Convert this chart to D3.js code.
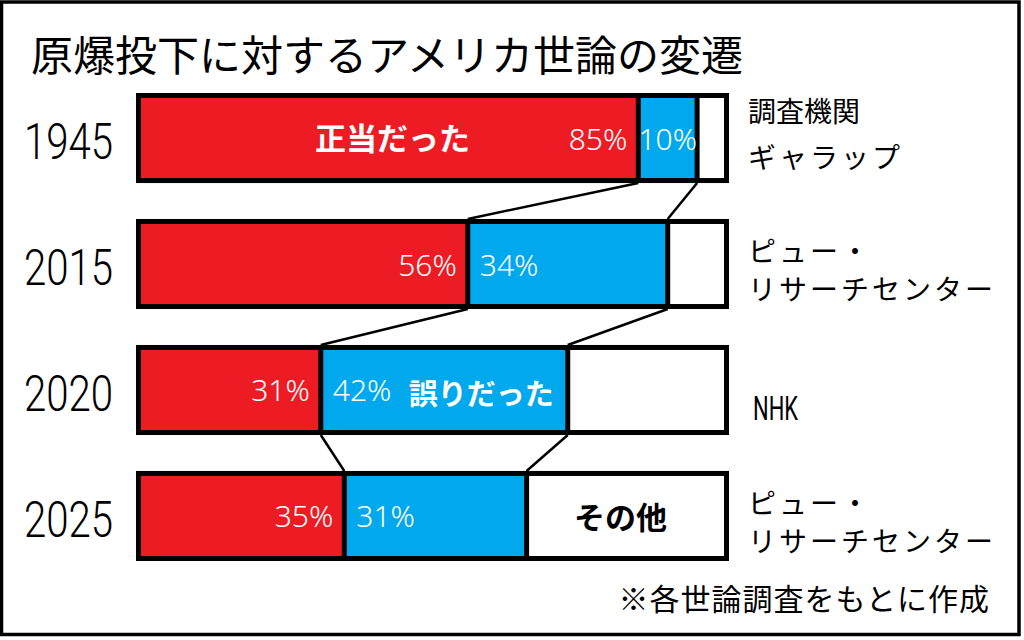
<!DOCTYPE html>
<meta charset="utf-8">
<style>
body { margin: 0; background: #fff; }
svg { display: block; }
.jp { font-family: "Noto Sans CJK JP", "Noto Sans", sans-serif; }
.num { font-family: "Noto Sans", "Open Sans", sans-serif; font-weight: 300; }
.narrow { font-family: Roboto, "Liberation Sans", sans-serif; font-weight: 400; }
.year { font-weight: 300; }
</style>
<svg width="1024" height="640"></svg>
<script src="https://d3js.org/d3.v7.min.js"></script>
<script>

  var years = ["1945", "2015", "2020", "2025"];
  var justified = [85, 56, 31, 35];   // 正当だった
  var wrong = [10, 34, 42, 31];       // 誤りだった
  var other = [5, 10, 27, 34];        // その他
  var sources = [["ギャラップ"], ["ピュー・", "リサーチセンター"], ["NHK"], ["ピュー・", "リサーチセンター"]];

  var red = "#ed1c24", blue = "#00a9ee";

  var svg = d3.select("svg");

  // outer frame
  svg.append("rect")
    .attr("x", 1.5).attr("y", 2)
    .attr("width", 1017.5).attr("height", 632.5)
    .attr("fill", "#fff").attr("stroke", "#000").attr("stroke-width", 3.5);

  // title
  svg.append("text")
    .attr("class", "jp")
    .attr("x", 31).attr("y", 52)
    .attr("dominant-baseline", "central")
    .attr("font-size", 42)
    .text("原爆投下に対するアメリカ世論の変遷");

  // scales
  var x = d3.scaleLinear().domain([0, 100]).range([138.5, 726.5]);
  var y = d3.scaleBand().domain(years).range([95.5, 558.5]).paddingInner(0.325);
  var bw = 5;

  var rows = years.map(function(yr, i) {
    return { year: yr, j: justified[i], w: wrong[i], o: other[i], src: sources[i] };
  });

  // connector lines between the bars
  var links = [];
  rows.slice(1).forEach(function(d, i) {
    var p = rows[i];
    links.push({ x0: x(p.j), x1: x(d.j), y0: y(p.year) + y.bandwidth() + bw / 2, y1: y(d.year) - bw / 2 });
    links.push({ x0: x(p.j + p.w), x1: x(d.j + d.w), y0: y(p.year) + y.bandwidth() + bw / 2, y1: y(d.year) - bw / 2 });
  });
  svg.selectAll(".link")
    .data(links)
    .enter().append("line")
    .attr("class", "link")
    .attr("x1", function(d) { return d.x0; })
    .attr("y1", function(d) { return d.y0; })
    .attr("x2", function(d) { return d.x1; })
    .attr("y2", function(d) { return d.y1; })
    .attr("stroke", "#000").attr("stroke-width", 2.5);

  var row = svg.selectAll(".row")
    .data(rows)
    .enter().append("g")
    .attr("class", "row")
    .attr("transform", function(d) { return "translate(0," + y(d.year) + ")"; });

  var h = y.bandwidth(), mid = h / 2;

  // segments
  row.append("rect")
    .attr("x", x(0)).attr("width", function(d) { return x(d.j) - x(0); })
    .attr("height", h).attr("fill", red);
  row.append("rect")
    .attr("x", function(d) { return x(d.j); })
    .attr("width", function(d) { return x(d.j + d.w) - x(d.j); })
    .attr("height", h).attr("fill", blue);
  row.append("rect")
    .attr("x", function(d) { return x(d.j + d.w); })
    .attr("width", function(d) { return x(100) - x(d.j + d.w); })
    .attr("height", h).attr("fill", "#fff");

  // dividers
  row.append("line")
    .attr("x1", function(d) { return x(d.j); }).attr("x2", function(d) { return x(d.j); })
    .attr("y1", 0).attr("y2", h)
    .attr("stroke", "#000").attr("stroke-width", bw);
  row.append("line")
    .attr("x1", function(d) { return x(d.j + d.w); }).attr("x2", function(d) { return x(d.j + d.w); })
    .attr("y1", 0).attr("y2", h)
    .attr("stroke", "#000").attr("stroke-width", bw);

  // bar outline
  row.append("rect")
    .attr("x", x(0)).attr("width", x(100) - x(0))
    .attr("height", h)
    .attr("fill", "none").attr("stroke", "#000").attr("stroke-width", bw);

  // percentage labels
  row.append("text")
    .attr("class", "num")
    .attr("x", function(d) { return x(d.j) - 11; })
    .attr("y", mid)
    .attr("dominant-baseline", "central")
    .attr("text-anchor", "end")
    .attr("font-size", 30).attr("fill", "#fff")
    .text(function(d) { return d.j + "%"; });
  row.append("text")
    .attr("class", "num")
    .attr("x", function(d) {
      var w = x(d.j + d.w) - x(d.j);
      return w < 80 ? x(d.j) + w / 2 : x(d.j) + 12;
    })
    .attr("y", mid)
    .attr("dominant-baseline", "central")
    .attr("text-anchor", function(d) { return x(d.j + d.w) - x(d.j) < 80 ? "middle" : "start"; })
    .attr("font-size", 30).attr("fill", "#fff")
    .text(function(d) { return d.w + "%"; });

  // year labels (condensed)
  row.append("text")
    .attr("class", "narrow year")
    .attr("x", 24)
    .attr("y", mid + 4)
    .attr("dominant-baseline", "central")
    .attr("font-size", 50)
    .attr("textLength", 89)
    .attr("lengthAdjust", "spacingAndGlyphs")
    .text(function(d) { return d.year; });

  // source labels
  row.each(function(d) {
    var g = d3.select(this);
    var n = d.src.length;
    d.src.forEach(function(s, k) {
      var dy = n === 1 ? mid + 18 : mid - 14 + k * 38;
      var t = g.append("text")
        .attr("x", s === "NHK" ? 753 : 748)
        .attr("y", dy)
        .attr("dominant-baseline", "central")
        .text(s);
      if (s === "NHK") {
        t.attr("class", "narrow").attr("font-size", 34)
          .attr("textLength", 45).attr("lengthAdjust", "spacingAndGlyphs");
      } else {
        t.attr("class", "jp").attr("font-size", 28).attr("letter-spacing", 3);
      }
    });
  });

  svg.append("text")
    .attr("class", "jp")
    .attr("x", 748).attr("y", y(years[0]) + mid - 28)
    .attr("dominant-baseline", "central")
    .attr("font-size", 28)
    .text("調査機関");

  // category labels
  var first = rows[0], third = rows[2], last = rows[3];
  svg.append("text")
    .attr("class", "jp")
    .attr("x", (x(0) + x(first.j)) / 2 + 4)
    .attr("y", y(first.year) + mid - 2)
    .attr("dominant-baseline", "central")
    .attr("text-anchor", "middle")
    .attr("font-size", 31).attr("font-weight", "bold").attr("fill", "#fff")
    .text("正当だった");
  svg.append("text")
    .attr("class", "jp")
    .attr("x", x(third.j + third.w) - 14)
    .attr("y", y(third.year) + mid + 2)
    .attr("dominant-baseline", "central")
    .attr("text-anchor", "end")
    .attr("font-size", 29).attr("font-weight", "bold").attr("fill", "#fff")
    .text("誤りだった");
  svg.append("text")
    .attr("class", "jp")
    .attr("x", (x(last.j + last.w) + x(100)) / 2 - 6)
    .attr("y", y(last.year) + mid)
    .attr("dominant-baseline", "central")
    .attr("text-anchor", "middle")
    .attr("font-size", 31).attr("font-weight", "bold").attr("fill", "#000")
    .text("その他");

  // footnote
  svg.append("text")
    .attr("class", "jp")
    .attr("x", 990).attr("y", 597)
    .attr("dominant-baseline", "central")
    .attr("text-anchor", "end")
    .attr("font-size", 30)
    .attr("letter-spacing", 1)
    .text("※各世論調査をもとに作成");
</script>
